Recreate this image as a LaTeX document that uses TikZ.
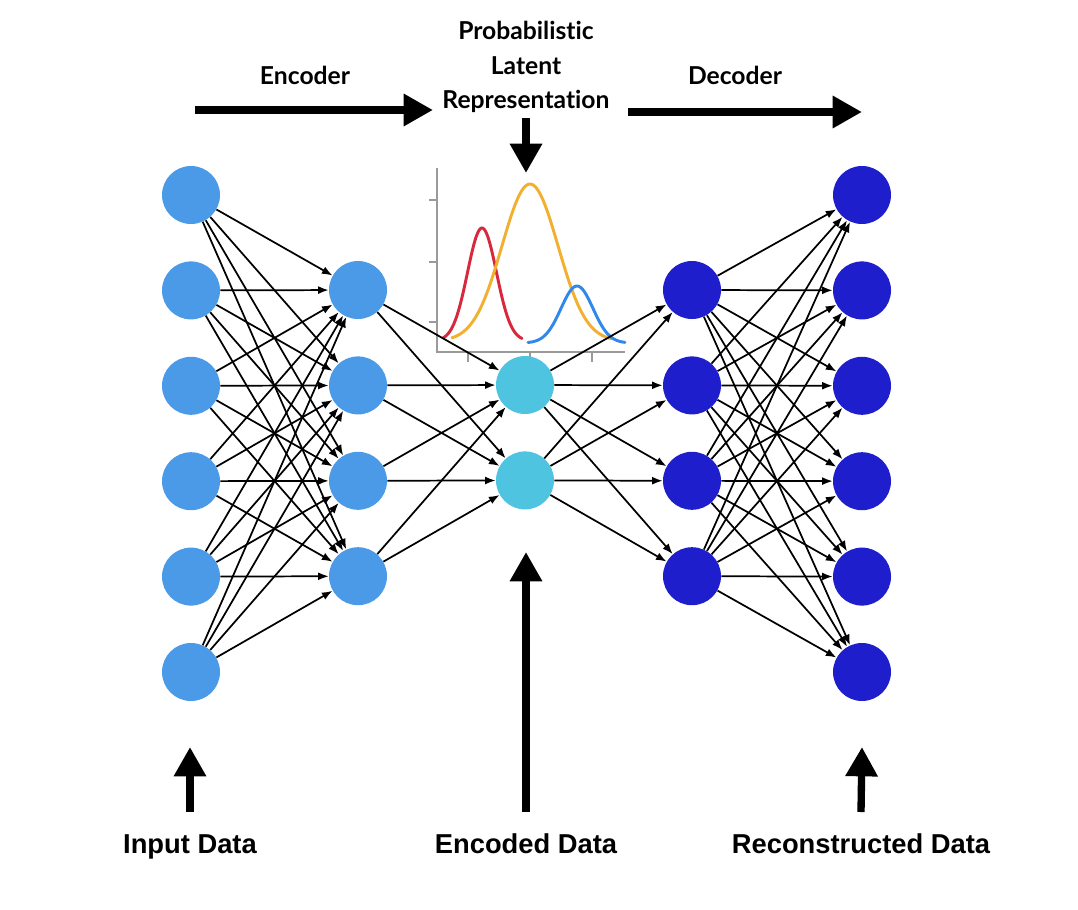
\documentclass[tikz,border=0pt]{standalone}
\usepackage{fontspec}
\usepackage{xcolor}
\usepackage{tikz}
\usetikzlibrary{positioning,calc,arrows.meta}
\newfontfamily\headfont[Ligatures=NoCommon]{Lato}
\newfontfamily\footfont{Liberation Sans}
\definecolor{inblue}{HTML}{4A9AE8}
\definecolor{latcyan}{HTML}{4EC4E0}
\definecolor{outblue}{HTML}{1E1ECC}
\definecolor{axisgray}{HTML}{9A9A9A}
\definecolor{gred}{HTML}{D8283C}
\definecolor{gorange}{HTML}{F2B030}
\definecolor{gblue}{HTML}{3088E8}

\begin{document}
\begin{tikzpicture}[x=0.75pt, y=-0.75pt,
    neuron/.style={circle, minimum size=43.5pt, inner sep=0pt},
    link/.style={-{Latex[length=8pt,width=6pt]}, line width=1.3pt},
    bigarrow/.style={-{Triangle[length=22pt,width=23pt]}, line width=5.5pt},
    headlabel/.style={font=\headfont\bfseries\fontsize{18.5}{26}\selectfont, align=center},
    footlabel/.style={font=\footfont\bfseries\fontsize{20.5}{24}\selectfont, anchor=base},
    curve/.style={line width=2.2pt, line cap=round}]
    \fill[white] (0,0) rectangle (1078,910);
    \useasboundingbox (0,0) rectangle (1078,910);

    % latent distribution plot
    \draw[axisgray, line width=2.2pt] (437,168) -- (437,352) -- (625,352);
    \foreach \t in {200,262,322}
        \draw[axisgray, line width=2.2pt] (429,\t) -- (437,\t);
    \foreach \t in {468,530,592}
        \draw[axisgray, line width=2.2pt] (\t,352) -- (\t,362);
    \draw[curve, gred] plot[domain=443:522, samples=60] (\x, {341-113*exp(-((\x-482)/14.5)^2/2)});
    \draw[curve, gorange] plot[domain=452:612, samples=80] (\x, {341-157*exp(-((\x-530)/28)^2/2)});
    \draw[curve, gblue] plot[domain=528:625, samples=60] (\x, {343-57*exp(-((\x-577)/16)^2/2)});

    % layers
    \foreach \i in {1,...,6}
        \node[neuron, fill=inblue] (in\i) at (191, {195+95.4*(\i-1)}) {};
    \foreach \i in {1,...,4}
        \node[neuron, fill=inblue] (hid\i) at (358, {290+95.4*(\i-1)}) {};
    \foreach \i in {1,2}
        \node[neuron, fill=latcyan] (enc\i) at (525, {385+95.4*(\i-1)}) {};
    \foreach \i in {1,...,4}
        \node[neuron, fill=outblue] (dec\i) at (692, {290+95.4*(\i-1)}) {};
    \foreach \i in {1,...,6}
        \node[neuron, fill=outblue] (out\i) at (862, {195+95.4*(\i-1)}) {};

    % connections
    \foreach \i in {1,...,6}
        \foreach \j in {1,...,4}
            \draw[link] (in\i) -- (hid\j);
    \foreach \i in {1,...,4}
        \foreach \j in {1,2}
            \draw[link] (hid\i) -- (enc\j);
    \foreach \i in {1,2}
        \foreach \j in {1,...,4}
            \draw[link] (enc\i) -- (dec\j);
    \foreach \i in {1,...,4}
        \foreach \j in {1,...,6}
            \draw[link] (dec\i) -- (out\j);

    % top labels
    \node[headlabel] (encoder) at (305,75) {Encoder};
    \node[headlabel] (decoder) at (735,75) {Decoder};
    \node[headlabel] (latent) at (526,67) {Probabilistic\\Latent\\Representation};
    \coordinate (encstart) at (195,110);
    \coordinate (encend) at (433,110);
    \coordinate (decstart) at (628,112);
    \coordinate (decend) at (862,112);
    \coordinate (plottop) at (526,173);
    \draw[bigarrow] (encstart) -- (encend);
    \draw[bigarrow] (decstart) -- (decend);
    \draw[bigarrow] (latent.south |- 0,118) -- (plottop);

    % bottom labels
    \node[footlabel] (inlabel) at (190,853) {Input Data};
    \node[footlabel] (enclabel) at (526,853) {Encoded Data};
    \node[footlabel] (outlabel) at (861,853) {Reconstructed Data};
    \coordinate (intip) at (190,747);
    \coordinate (enctip) at (526,552);
    \coordinate (outtip) at (862,747);
    \draw[bigarrow] (inlabel.north |- 0,812) -- (intip);
    \draw[bigarrow] (enclabel.north |- 0,812) -- (enctip);
    \draw[bigarrow] (outlabel.north |- 0,812) -- (outtip);
\end{tikzpicture}
\end{document}
